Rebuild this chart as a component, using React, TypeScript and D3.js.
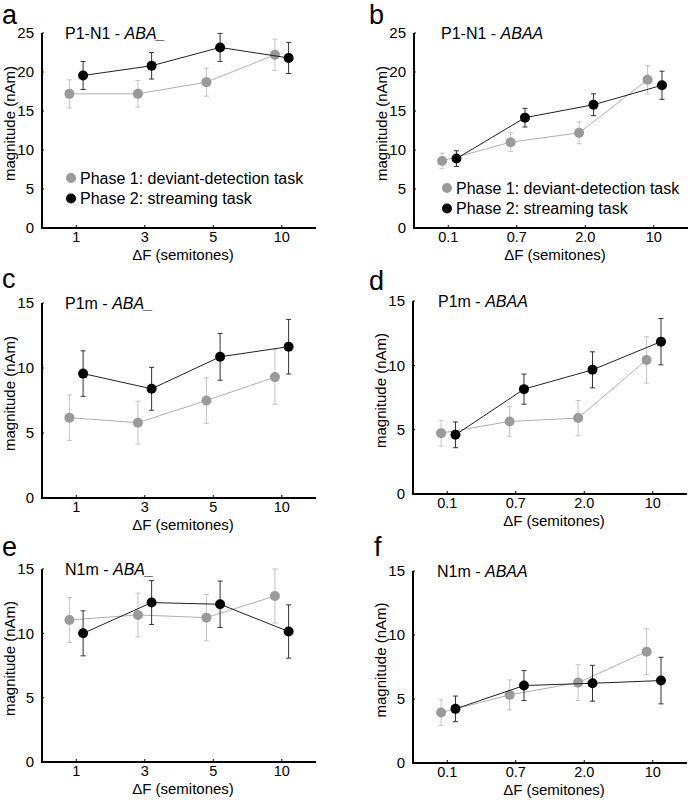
import React from 'react';
import * as d3 from 'd3';

// x categories
const abaTicks = ['1', '3', '5', '10'];
const abaaTicks = ['0.1', '0.7', '2.0', '10'];

// panel a: P1-N1 ABA_
const aGray = [17.2, 17.2, 18.7, 22.2];
const aGrayErr = [1.8, 1.7, 1.8, 2.0];
const aBlack = [19.55, 20.8, 23.15, 21.8];
const aBlackErr = [1.8, 1.7, 1.8, 2.0];

// panel b: P1-N1 ABAA
const bGray = [8.6, 11.0, 12.2, 19.0];
const bGrayErr = [1.0, 1.2, 1.4, 1.8];
const bBlack = [8.9, 14.15, 15.8, 18.3];
const bBlackErr = [1.0, 1.2, 1.4, 1.8];

// panel c: P1m ABA_
const cGray = [6.18, 5.79, 7.5, 9.3];
const cGrayErr = [1.75, 1.65, 1.75, 2.1];
const cBlack = [9.57, 8.4, 10.86, 11.64];
const cBlackErr = [1.75, 1.65, 1.8, 2.1];

// panel d: P1m ABAA
const dGray = [4.73, 5.64, 5.9, 10.42];
const dGrayErr = [1.0, 1.15, 1.37, 1.8];
const dBlack = [4.6, 8.15, 9.65, 11.84];
const dBlackErr = [1.0, 1.17, 1.4, 1.8];

// panel e: N1m ABA_
const eGray = [11.04, 11.43, 11.22, 12.9];
const eGrayErr = [1.75, 1.7, 1.8, 2.1];
const eBlack = [10.0, 12.39, 12.26, 10.14];
const eBlackErr = [1.75, 1.7, 1.8, 2.07];

// panel f: N1m ABAA
const fGray = [3.94, 5.32, 6.28, 8.7];
const fGrayErr = [1.0, 1.17, 1.4, 1.78];
const fBlack = [4.23, 6.05, 6.23, 6.44];
const fBlackErr = [1.0, 1.17, 1.4, 1.82];

const legendLabels = ['Phase 1: deviant-detection task', 'Phase 2: streaming task'];

const FONT = 'Liberation Sans, Arial, Helvetica, sans-serif';
const GRAY_DOT = '#9a9a9a';
const GRAY_LINE = '#b0b0b0';
const GRAY_ERR = '#c4c4c4';

interface PanelProps {
  letter: string;
  letterX: number;
  letterY: number;
  comp: string;
  cond: string;
  axisX: number;
  yTop: number;
  yBase: number;
  yMax: number;
  ticks: string[];
  gray: number[];
  grayErr: number[];
  black: number[];
  blackErr: number[];
  grayOff: number;
  blackOff: number;
  titleDx: number;
  legendY?: number;
}

const Panel = (p: PanelProps) => {
  const x = d3.scaleLinear().domain([-0.5, 3.45]).range([p.axisX, p.axisX + 270.6]);
  const y = d3.scaleLinear().domain([0, p.yMax]).range([p.yBase, p.yTop]);
  const yTicks = d3.range(0, p.yMax + 0.1, 5);
  const lineG = d3.line<number>().x((_, i) => x(i + p.grayOff)).y(d => y(d));
  const lineB = d3.line<number>().x((_, i) => x(i + p.blackOff)).y(d => y(d));
  const xEnd = Math.min(p.axisX + 274, 688);
  const midY = (p.yTop + p.yBase) / 2 - 7;

  const errBars = (vals: number[], errs: number[], off: number, color: string) =>
    vals.map((v, i) => {
      const cx = x(i + off);
      return (
        <g key={i} stroke={color} strokeWidth={1}>
          <line x1={cx} x2={cx} y1={y(v + errs[i])} y2={y(v - errs[i])} />
          <line x1={cx - 2.5} x2={cx + 2.5} y1={y(v + errs[i])} y2={y(v + errs[i])} />
          <line x1={cx - 2.5} x2={cx + 2.5} y1={y(v - errs[i])} y2={y(v - errs[i])} />
        </g>
      );
    });

  return (
    <g fontFamily={FONT}>
      <text x={p.letterX} y={p.letterY} fontSize={27}>{p.letter}</text>
      <text x={p.axisX + p.titleDx} y={p.yTop + 6} fontSize={16}>
        {p.comp} - <tspan fontStyle="italic">{p.cond}</tspan>
      </text>

      {/* series */}
      <path d={lineG(p.gray) || ''} fill="none" stroke={GRAY_LINE} strokeWidth={1} />
      {errBars(p.gray, p.grayErr, p.grayOff, GRAY_ERR)}
      {p.gray.map((v, i) => (
        <circle key={'g' + i} cx={x(i + p.grayOff)} cy={y(v)} r={5} fill={GRAY_DOT} />
      ))}
      <path d={lineB(p.black) || ''} fill="none" stroke="#222" strokeWidth={1} />
      {errBars(p.black, p.blackErr, p.blackOff, '#333')}
      {p.black.map((v, i) => (
        <circle key={'b' + i} cx={x(i + p.blackOff)} cy={y(v)} r={5} fill="#000" />
      ))}

      {/* axes */}
      <line x1={p.axisX} x2={p.axisX} y1={p.yTop} y2={p.yBase + 1} stroke="#000" strokeWidth={2} />
      <line x1={p.axisX - 1} x2={xEnd} y1={p.yBase} y2={p.yBase} stroke="#000" strokeWidth={2} />
      {yTicks.map(t => (
        <g key={t}>
          <line x1={p.axisX} x2={p.axisX + 2} y1={y(t)} y2={y(t)} stroke="#000" />
          <text x={p.axisX - 8} y={y(t)} dy="0.35em" textAnchor="end" fontSize={15}>{t}</text>
        </g>
      ))}
      {p.ticks.map((t, i) => (
        <g key={t}>
          <line x1={x(i)} x2={x(i)} y1={p.yBase} y2={p.yBase - 3} stroke="#000" />
          <text x={x(i)} y={p.yBase + 14} textAnchor="middle" fontSize={14.5}>{t}</text>
        </g>
      ))}
      <text x={p.axisX + 141} y={p.yBase + 32} textAnchor="middle" fontSize={15}>ΔF (semitones)</text>
      <text
        transform={`translate(${p.axisX - 27},${midY}) rotate(-90)`}
        textAnchor="middle"
        fontSize={15}
      >
        magnitude (nAm)
      </text>

      {p.legendY !== undefined && (
        <g>
          {legendLabels.map((l, i) => (
            <g key={l} transform={`translate(${p.axisX + p.titleDx + 6},${p.legendY! + i * 20.5})`}>
              <circle cx={0} cy={0} r={5} fill={i === 0 ? GRAY_DOT : '#000'} />
              <text x={9} y={0} dy="0.36em" fontSize={16}>{l}</text>
            </g>
          ))}
        </g>
      )}
    </g>
  );
};

export default function App() {
  return (
    <svg width={688} height={800} style={{ position: 'absolute', left: 0, top: 0, background: '#fff' }}>
      <rect width={688} height={800} fill="#fff" />
      <Panel letter="a" letterX={2} letterY={24} comp="P1-N1" cond="ABA_" axisX={42} yTop={33} yBase={228} yMax={25}
        ticks={abaTicks} gray={aGray} grayErr={aGrayErr} black={aBlack} blackErr={aBlackErr}
        grayOff={-0.1} blackOff={0.1} titleDx={23} legendY={178} />
      <Panel letter="b" letterX={369} letterY={24} comp="P1-N1" cond="ABAA" axisX={414} yTop={33} yBase={228} yMax={25}
        ticks={abaaTicks} gray={bGray} grayErr={bGrayErr} black={bBlack} blackErr={bBlackErr}
        grayOff={-0.09} blackOff={0.12} titleDx={27} legendY={188} />
      <Panel letter="c" letterX={2} letterY={288} comp="P1m" cond="ABA_" axisX={42} yTop={303} yBase={498} yMax={15}
        ticks={abaTicks} gray={cGray} grayErr={cGrayErr} black={cBlack} blackErr={cBlackErr}
        grayOff={-0.1} blackOff={0.1} titleDx={23} />
      <Panel letter="d" letterX={369} letterY={290} comp="P1m" cond="ABAA" axisX={413} yTop={301} yBase={494} yMax={15}
        ticks={abaaTicks} gray={dGray} grayErr={dGrayErr} black={dBlack} blackErr={dBlackErr}
        grayOff={-0.09} blackOff={0.12} titleDx={25} />
      <Panel letter="e" letterX={2} letterY={556} comp="N1m" cond="ABA_" axisX={42} yTop={569} yBase={762} yMax={15}
        ticks={abaTicks} gray={eGray} grayErr={eGrayErr} black={eBlack} blackErr={eBlackErr}
        grayOff={-0.1} blackOff={0.1} titleDx={23} />
      <Panel letter="f" letterX={374} letterY={556} comp="N1m" cond="ABAA" axisX={413} yTop={571} yBase={763} yMax={15}
        ticks={abaaTicks} gray={fGray} grayErr={fGrayErr} black={fBlack} blackErr={fBlackErr}
        grayOff={-0.09} blackOff={0.12} titleDx={24} />
    </svg>
  );
}
